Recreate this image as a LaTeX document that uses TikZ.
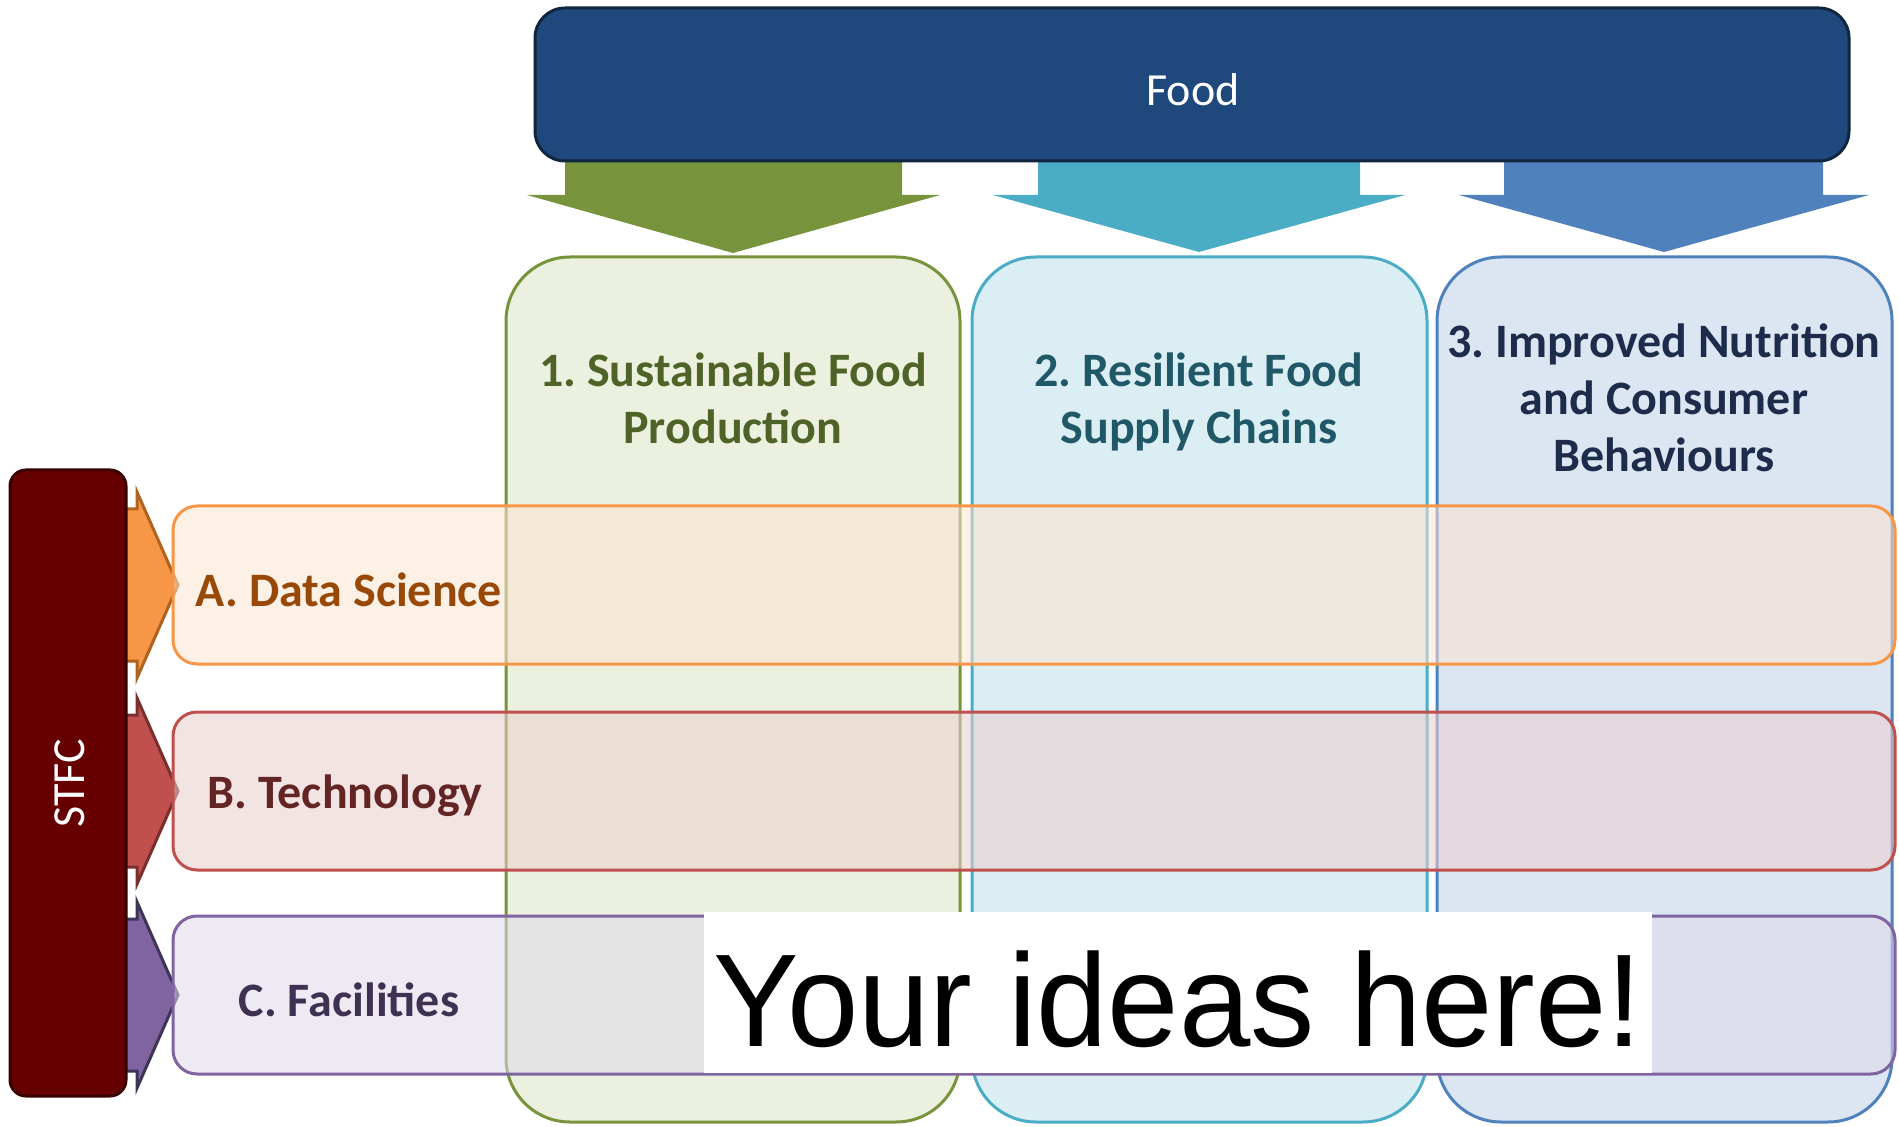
\documentclass[tikz,border=0pt]{standalone}
\usepackage{fontspec}
\setmainfont{Carlito}
\newfontfamily\arialfont{Liberation Sans}
\frenchspacing
\definecolor{foodfill}{HTML}{1F497D}
\definecolor{fooddraw}{HTML}{10253F}
\definecolor{cgreen}{HTML}{77933C}
\definecolor{cgreenfill}{HTML}{EBF1DE}
\definecolor{cgreentext}{HTML}{4F6228}
\definecolor{cteal}{HTML}{4BACC6}
\definecolor{ctealfill}{HTML}{DBEEF4}
\definecolor{ctealtext}{HTML}{215868}
\definecolor{cblue}{HTML}{4F81BD}
\definecolor{cbluefill}{HTML}{DCE6F2}
\definecolor{cbluetext}{HTML}{1C2C4A}
\definecolor{rorange}{HTML}{F79646}
\definecolor{rorangedark}{HTML}{B0621F}
\definecolor{rorangefill}{HTML}{FCE4D0}
\definecolor{rorangetext}{HTML}{984807}
\definecolor{rred}{HTML}{C0504D}
\definecolor{rreddark}{HTML}{7A2F2D}
\definecolor{rredfill}{HTML}{EACFCF}
\definecolor{rredtext}{HTML}{632523}
\definecolor{rpurple}{HTML}{8064A2}
\definecolor{rpurpledark}{HTML}{3E3456}
\definecolor{rpurplefill}{HTML}{E0DAEA}
\definecolor{rpurpletext}{HTML}{3F3151}
\definecolor{stfcfill}{HTML}{660000}
\definecolor{stfcdraw}{HTML}{3A0000}
\begin{document}
\begin{tikzpicture}[x=0.5pt,y=-0.5pt,
  colbox/.style={rounded corners=32pt, line width=1.5pt},
  rowbox/.style={rounded corners=12pt, line width=1.5pt, fill opacity=0.55},
  sidearrow/.style={line width=1.5pt, line join=miter},
  coltitle/.style={align=center, font=\bfseries\fontsize{24}{28.5}\selectfont},
  rowlabel/.style={font=\bfseries\fontsize{24}{28.5}\selectfont},
  whitelabel/.style={text=white, font=\fontsize{23}{27}\selectfont}]
\useasboundingbox (0,0) rectangle (1899,1127);
\fill[white] (0,0) rectangle (1899,1127);

% down arrows from Food
\fill[cgreen] (565,140) -- (902,140) -- (902,195) -- (940,195) -- (733,253) -- (527,195) -- (565,195) -- cycle;
\fill[cteal] (1038,140) -- (1360,140) -- (1360,195) -- (1405,195) -- (1199,252) -- (993,195) -- (1038,195) -- cycle;
\fill[cblue] (1504,140) -- (1823,140) -- (1823,195) -- (1869,195) -- (1664,252) -- (1459,195) -- (1504,195) -- cycle;

% Food box
\draw[fill=foodfill, draw=fooddraw, line width=1.5pt, rounded corners=15pt] (535,8) rectangle (1849,161);
\node[whitelabel] (food) at (1193,90) {Food};

% columns
\draw[colbox, fill=cgreenfill, draw=cgreen] (506,257) rectangle (960,1122);
\draw[colbox, fill=ctealfill, draw=cteal] (972,257) rectangle (1427,1122);
\draw[colbox, fill=cbluefill, draw=cblue] (1437,257) rectangle (1892,1122);

\node[coltitle, text=cgreentext] (c1) at (733,398) {1. Sustainable Food\\Production};
\node[coltitle, text=ctealtext] (c2) at (1199,402) {2. Resilient Food\\Supply Chains};
\node[coltitle, text=cbluetext] (c3) at (1664,398) {3. Improved Nutrition\\and Consumer\\Behaviours};

% side arrows
\draw[sidearrow, fill=rorange, draw=rorangedark] (110,509) -- (137,509) -- (137,492) -- (178,585) -- (137,678) -- (137,661) -- (110,661) -- cycle;
\draw[sidearrow, fill=rred, draw=rreddark] (110,715) -- (137,715) -- (137,698) -- (178,791) -- (137,884) -- (137,867) -- (110,867) -- cycle;
\draw[sidearrow, fill=rpurple, draw=rpurpledark] (110,919) -- (137,919) -- (137,902) -- (178,995) -- (137,1088) -- (137,1071) -- (110,1071) -- cycle;

% rows
\draw[rowbox, fill=rorangefill, draw=rorange] (173,506) rectangle (1895,664);
\draw[rowbox, fill=rredfill, draw=rred] (173,712) rectangle (1895,870);
\draw[rowbox, fill=rpurplefill, draw=rpurple] (173,916) rectangle (1895,1074);

\node[rowlabel, text=rorangetext] (ra) at (349,590) {A. Data Science};
\node[rowlabel, text=rredtext] (rb) at (345,796) {B. Technology};
\node[rowlabel, text=rpurpletext] (rc) at (349,1000) {C. Facilities};

% STFC bar
\draw[fill=stfcfill, draw=stfcdraw, line width=1.5pt, rounded corners=8pt] (10,470) rectangle (126,1096);
\node[whitelabel, rotate=90] (stfc) at (70,783) {STFC};

% Your ideas here
\fill[white] (704,912) rectangle (1652,1073);
\node[inner sep=0pt, xscale=1.01, yscale=1.04, font=\arialfont\fontsize{63.5}{70}\selectfont] (ideas) at (1178,999) {Your ideas here!};
\end{tikzpicture}
\end{document}
